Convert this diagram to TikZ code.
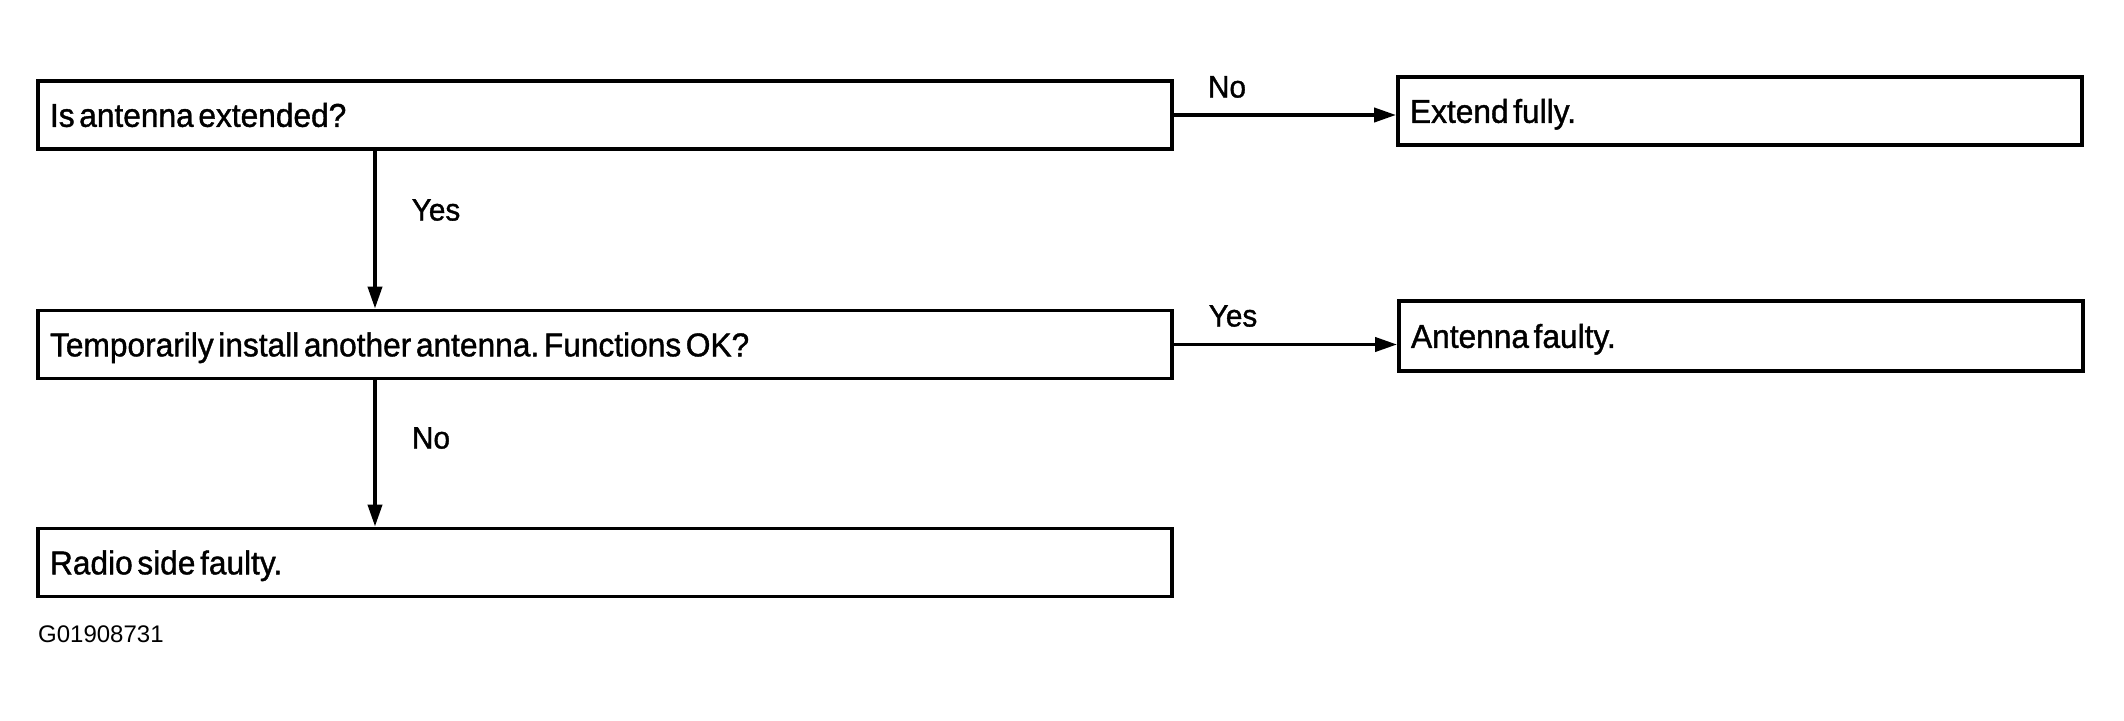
\documentclass[tikz,border=0pt]{standalone}
\usepackage{fontspec}
\setmainfont{Liberation Sans}
\newfontfamily\condfont[FakeStretch=0.96,FakeBold=1.2]{Liberation Sans}
\usetikzlibrary{arrows.meta}
\newcommand\myboxfont{\condfont\fontsize{33}{36}\selectfont\frenchspacing\spaceskip=0.14em\relax}
\begin{document}
\begin{tikzpicture}[x=1pt,y=1pt,
  box/.style={draw,line width=3.8pt,rectangle,inner xsep=12pt,inner ysep=0pt,
    minimum height=68pt,text width=#1,align=left,text height=23.6pt,text depth=0pt},
  arr/.style={line width=3.8pt,-{Triangle[length=22pt,width=14pt]}},
  lbl/.style={font=\condfont\fontsize{31}{34}\selectfont,inner sep=0pt}]
\useasboundingbox (0,0) rectangle (2124,-720);
\node[box=1110pt] (q1) at (605,-115) {\myboxfont Is antenna extended?};
\node[box=660pt] (ext) at (1740,-111) {\myboxfont Extend fully.};
\node[box=1110pt] (q2) at (605,-344.5) {\myboxfont Temporarily install another antenna. Functions OK?};
\node[box=660pt,minimum height=70pt] (ant) at (1741,-336) {\myboxfont Antenna faulty.};
\node[box=1110pt] (rad) at (605,-562.5) {\myboxfont Radio side faulty.};
\coordinate (vx) at (375,0);
\draw[arr] (q1.south -| vx) -- (q2.north -| vx);
\draw[arr] (q2.south -| vx) -- (rad.north -| vx);
\draw[arr] (q1.east) -- (q1.east -| ext.west);
\draw[arr] (q2.east) -- (q2.east -| ant.west);
\node[lbl] (l1) at (1227,-87) {No};
\node[lbl] (l2) at (1233,-316) {Yes};
\node[lbl] (l3) at (436,-210) {Yes};
\node[lbl] (l4) at (431,-438) {No};
\node[font=\fontsize{24}{28}\selectfont,inner sep=0pt,anchor=west] (code) at (38,-634) {G01908731};
\end{tikzpicture}
\end{document}
